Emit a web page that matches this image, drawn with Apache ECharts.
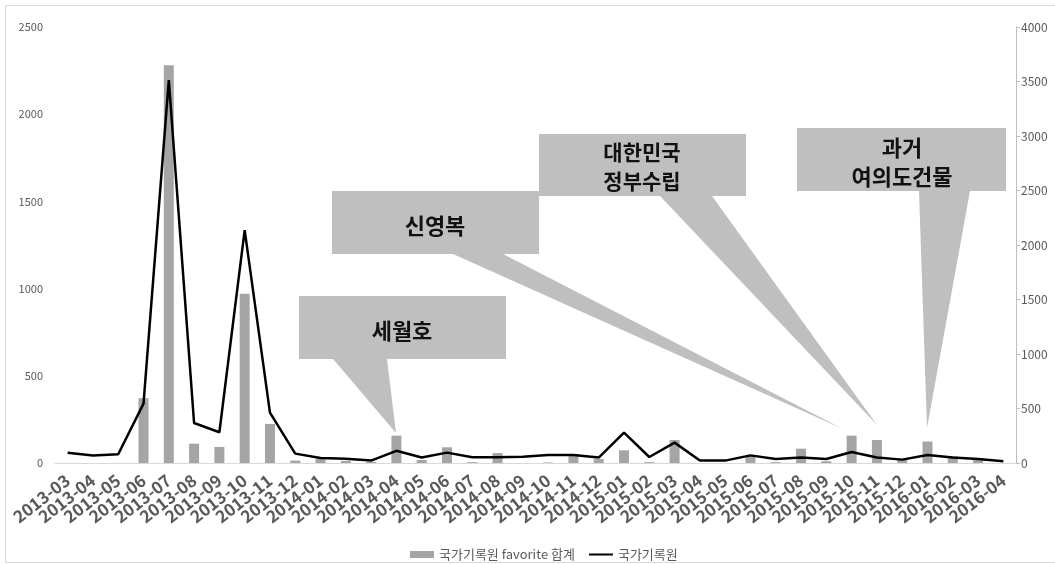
<!DOCTYPE html>
<html>
<head>
<meta charset="utf-8">
<script src="https://cdn.jsdelivr.net/npm/echarts@6/dist/echarts.min.js"></script>
<style>
  html, body { margin: 0; padding: 0; background: #fff; }
  #container { width: 1055px; height: 564px; }
</style>
</head>
<body>
<div id="container"></div>
<script>
// 월별 카테고리
var months = [
    '2013-03','2013-04','2013-05','2013-06','2013-07','2013-08','2013-09','2013-10','2013-11','2013-12',
    '2014-01','2014-02','2014-03','2014-04','2014-05','2014-06','2014-07','2014-08','2014-09','2014-10','2014-11','2014-12',
    '2015-01','2015-02','2015-03','2015-04','2015-05','2015-06','2015-07','2015-08','2015-09','2015-10','2015-11','2015-12',
    '2016-01','2016-02','2016-03','2016-04'
];
// 국가기록원 favorite 합계 (왼쪽 축)
var favoriteSum = [
    0, 0, 0, 372, 2280, 111, 92, 971, 224, 14,
    25, 12, 6, 157, 17, 90, 5, 57, 0, 3, 50, 23,
    73, 5, 132, 0, 0, 42, 5, 82, 10, 157, 132, 23,
    123, 38, 27, 0
];
// 국가기록원 (오른쪽 축)
var archiveCount = [
    95, 68, 80, 545, 3513, 367, 282, 2136, 462, 86,
    46, 40, 22, 112, 50, 95, 52, 52, 58, 73, 73, 50,
    279, 55, 187, 22, 22, 70, 37, 50, 37, 101, 50, 31,
    73, 50, 37, 16
];
var leftTicks = { min: 0, max: 2500, interval: 500 };
var rightTicks = { min: 0, max: 4000, interval: 500 };
var barName = '국가기록원 favorite 합계';
var lineName = '국가기록원';

var fontKr = '"Noto Sans CJK KR", "Noto Sans", sans-serif';
var calloutFill = '#bfbfbf';

// 말풍선 (상자 + 꼬리)
function callout(pts, lines, cx, cy, size) {
    return [
        {
            type: 'polygon',
            z: 100,
            shape: { points: pts },
            style: { fill: calloutFill }
        },
        {
            type: 'text',
            z: 101,
            x: cx,
            y: cy,
            style: {
                text: lines,
                fill: '#111',
                font: 'bold ' + size + 'px ' + fontKr,
                align: 'center',
                verticalAlign: 'middle',
                lineHeight: 29
            }
        }
    ];
}

function plainNumber(v) {
    return String(v);
}

var dom = document.getElementById('container');
var myChart = echarts.init(dom, null, { renderer: 'canvas' });

var graphics = [
    {
        type: 'rect',
        z: 0,
        shape: { x: 5.5, y: 5.5, width: 1070, height: 557 },
        style: { fill: 'none', stroke: '#d9d9d9', lineWidth: 1 }
    }
];
graphics = graphics
    .concat(callout([[299,296],[506,296],[506,359],[387,359],[396,433],[333,359],[299,359]], '세월호', 402, 331, 22))
    .concat(callout([[332,191],[539,191],[539,254],[503,254],[843,429],[453,254],[332,254]], '신영복', 435, 226, 22))
    .concat(callout([[539,134],[746,134],[746,196],[712,196],[877,425],[660,196],[539,196]], '대한민국\n정부수립', 642, 167, 21))
    .concat(callout([[797,128],[1006,128],[1006,191],[970,191],[927,428],[919,191],[797,191]], '과거\n여의도건물', 902, 162, 22));

var option = {
    animation: false,
    backgroundColor: '#fff',
    grid: { left: 55, right: 39, top: 27, bottom: 101, containLabel: false },
    legend: {
        left: 405,
        top: 543,
        itemWidth: 24,
        itemHeight: 7,
        itemGap: 13,
        textStyle: { color: '#595959', fontSize: 13, fontFamily: fontKr },
        data: [
            { name: barName, icon: 'rect' },
            { name: lineName, itemStyle: { color: 'rgba(0,0,0,0)', borderWidth: 0 } }
        ]
    },
    xAxis: {
        type: 'category',
        data: months,
        boundaryGap: true,
        axisLine: { show: true, lineStyle: { color: '#d9d9d9', width: 1 } },
        axisTick: { show: false },
        axisLabel: {
            interval: 0,
            rotate: 38,
            margin: 15,
            color: '#595959',
            fontSize: 17,
            fontWeight: 'bold',
            fontFamily: fontKr
        }
    },
    yAxis: [
        {
            type: 'value',
            min: leftTicks.min,
            max: leftTicks.max,
            interval: leftTicks.interval,
            axisLine: { show: false },
            axisTick: { show: false },
            splitLine: { show: false },
            axisLabel: { color: '#595959', fontSize: 11, margin: 12, fontFamily: fontKr, formatter: plainNumber }
        },
        {
            type: 'value',
            position: 'right',
            min: rightTicks.min,
            max: rightTicks.max,
            interval: rightTicks.interval,
            axisLine: { show: true, lineStyle: { color: '#bfbfbf', width: 1 } },
            axisTick: { show: true, length: 4, lineStyle: { color: '#bfbfbf' } },
            splitLine: { show: false },
            axisLabel: { color: '#595959', fontSize: 12, margin: 5, fontFamily: fontKr, formatter: plainNumber }
        }
    ],
    series: [
        {
            name: barName,
            type: 'bar',
            yAxisIndex: 0,
            barWidth: 10,
            itemStyle: { color: '#a5a5a5' },
            data: favoriteSum
        },
        {
            name: lineName,
            type: 'line',
            yAxisIndex: 1,
            symbol: 'none',
            itemStyle: { color: '#000' },
            lineStyle: { color: '#000', width: 2.5 },
            data: archiveCount
        }
    ],
    graphic: graphics
};

if (option && typeof option === 'object') {
    myChart.setOption(option, true);
}
</script>
</body>
</html>
